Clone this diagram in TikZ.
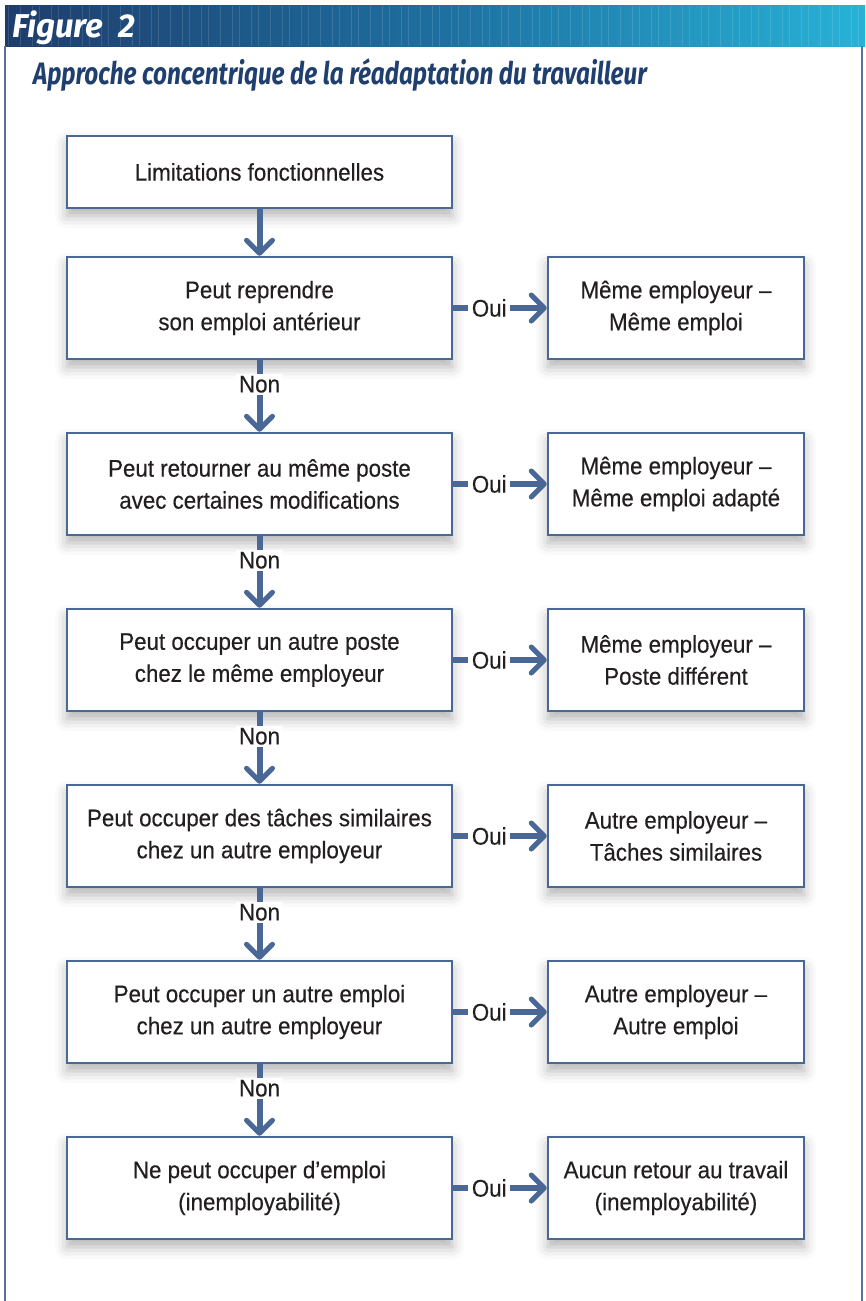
\documentclass[tikz,border=0pt]{standalone}
\usepackage{fontspec}
\setmainfont[FakeStretch=0.93,FakeBold=0.35]{Liberation Sans}
\newfontfamily\titlefont[FakeStretch=0.785]{Fira Sans}
\newfontfamily\figfont{Fira Sans}
\usetikzlibrary{arrows.meta,shadows.blur}
\definecolor{arrowblue}{HTML}{4A6896}
\definecolor{txt}{HTML}{231F20}
\definecolor{titleblue}{HTML}{1F3F6E}
\definecolor{hdrA}{HTML}{1E3D6C}
\definecolor{hdrB}{HTML}{1D6F9F}
\definecolor{hdrC}{HTML}{27B2D7}
\definecolor{framec}{HTML}{5A6F9C}
\tikzset{
 box/.style={draw=arrowblue, line width=2.5pt, fill=white, align=center, text=txt,
   font=\fontsize{24}{32}\selectfont, minimum height=102pt, inner sep=0pt,
   blur shadow={shadow xshift=0pt, shadow yshift=-8pt, shadow blur radius=12pt, shadow opacity=30}},
 lbox/.style={box, minimum width=385pt},
 rbox/.style={box, minimum width=256pt},
 flow/.style={draw=arrowblue, line width=6pt, -{Straight Barb[length=13pt,width=26pt,line width=5pt,round]}},
 lab/.style={fill=white, text=txt, font=\fontsize{24}{26}\selectfont, inner xsep=3.5pt, inner ysep=2pt},
}
\begin{document}
\begin{tikzpicture}[x=1pt,y=-1pt]
\useasboundingbox (0,0) rectangle (865,1301);
% header
\shade[left color=hdrA, right color=hdrC, middle color=hdrB] (5,5) rectangle (865,46);
\foreach \i in {0,...,85} { \draw[white, opacity=0.12, line width=0.8pt] ({8+\i*10+mod(\i*7,5)},6) -- ++(0,40); }
\node[anchor=base west, text=white, font=\figfont\bfseries\itshape\fontsize{33}{34}\selectfont, inner sep=0pt] (fig) at (12,37) {Figure\ \ 2};
% frame
\draw[framec, line width=1.5pt] (5,46) -- (5,1301);
\draw[framec, line width=1.5pt] (862,46) -- (862,1301);
% title
\node[anchor=base west, text=titleblue, font=\titlefont\bfseries\itshape\fontsize{31}{32}\selectfont, inner sep=0pt] (title) at (33,84) {Approche concentrique de la réadaptation du travailleur};
% left boxes
\node[lbox, minimum height=72pt] (b1) at (259.5,172) {Limitations fonctionnelles};
\node[lbox] (b2) at (259.5,308) {Peut reprendre\\son emploi antérieur};
\node[lbox] (b3) at (259.5,484) {Peut retourner au même poste\\avec certaines modifications};
\node[lbox] (b4) at (259.5,660) {Peut occuper un autre poste\\chez le même employeur};
\node[lbox] (b5) at (259.5,836) {Peut occuper des tâches similaires\\chez un autre employeur};
\node[lbox] (b6) at (259.5,1012) {Peut occuper un autre emploi\\chez un autre employeur};
\node[lbox] (b7) at (259.5,1188) {Ne peut occuper d’emploi\\(inemployabilité)};
% right boxes
\node[rbox] (r2) at (676,308) {Même employeur –\\Même emploi};
\node[rbox] (r3) at (676,484) {Même employeur –\\Même emploi adapté};
\node[rbox] (r4) at (676,660) {Même employeur –\\Poste différent};
\node[rbox] (r5) at (676,836) {Autre employeur –\\Tâches similaires};
\node[rbox] (r6) at (676,1012) {Autre employeur –\\Autre emploi};
\node[rbox] (r7) at (676,1188) {Aucun retour au travail\\(inemployabilité)};
% vertical connectors
\draw[flow] (b1.south) -- (b2.north);
\foreach \a/\b in {2/3,3/4,4/5,5/6,6/7} {
  \draw[flow] (b\a.south) -- (b\b.north);
  \node[lab] (non\a) at ([yshift=-24pt]b\a.south) {Non};
}
% horizontal connectors
\foreach \a in {2,...,7} {
  \draw[flow] (b\a.east) -- (r\a.west);
  \node[lab] (oui\a) at ([xshift=36pt]b\a.east) {Oui};
}
\end{tikzpicture}
\end{document}
